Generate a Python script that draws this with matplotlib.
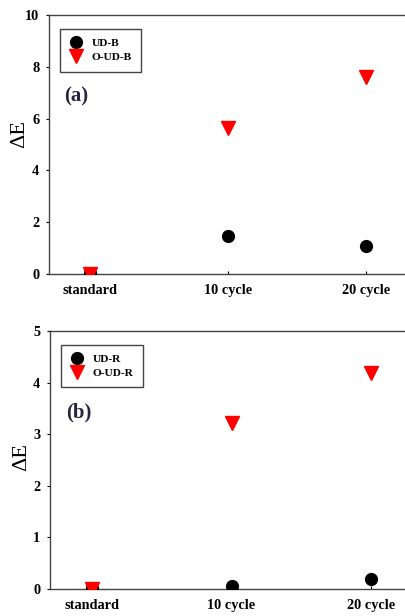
import matplotlib
matplotlib.use("Agg")
import matplotlib.pyplot as plt

categories = ["standard", "10 cycle", "20 cycle"]
ud_b = [0.05, 1.48, 1.09]
oud_b = [0.0, 5.65, 7.62]
ud_r = [0.02, 0.06, 0.19]
oud_r = [0.0, 3.21, 4.19]

plt.rcParams['font.family'] = ['Liberation Serif', 'DejaVu Serif']

W, H = 406, 616
fig = plt.figure(figsize=(W / 100, H / 100), dpi=100)

def panel(rect, s1, s2, n1, n2, ymax, yticks, tag, ylab_xy):
    ax = fig.add_axes(rect)
    x = list(range(len(categories)))
    ax.plot(x, s1, 'o', color='black', markersize=8.5, linestyle='none', label=n1, zorder=3)
    ax.plot(x, s2, 'v', color='red', markersize=10, linestyle='none', label=n2, zorder=4)
    ax.set_xlim(-0.3, 2.3)
    ax.set_ylim(0, ymax)
    ax.set_xticks(x)
    ax.set_xticklabels(categories, fontsize=10.3, fontweight='bold')
    ax.set_yticks(yticks)
    ax.set_yticklabels([str(t) for t in yticks], fontsize=10.3, fontweight='bold')
    ax.tick_params(axis='y', direction='out', length=2, width=0.8, pad=5)
    ax.tick_params(axis='x', direction='in', length=2, width=0.8, pad=7)
    for s in ['left', 'top', 'bottom']:
        ax.spines[s].set_color('#444444')
        ax.spines[s].set_linewidth(1.0)
    ax.spines['right'].set_visible(False)
    fig.text(ylab_xy[0] / W, 1 - ylab_xy[1] / H, 'ΔE', fontsize=16, rotation=90,
             ha='center', va='center')
    leg = ax.legend(loc='upper left', bbox_to_anchor=(0.02, 0.96), frameon=True,
                    fancybox=False, edgecolor='#444444', framealpha=1,
                    prop={'family': 'Liberation Serif', 'weight': 'bold', 'size': 8.2},
                    handletextpad=0.7, borderpad=0.8, labelspacing=0.4, handlelength=1.3,
                    borderaxespad=0.3)
    leg.get_frame().set_linewidth(1.0)
    ax.text(0.043, 0.685, tag, transform=ax.transAxes, fontsize=15, fontweight='bold',
            color='#2a2440', ha='left', va='center')
    return ax

panel([0.1207, 0.5552, 0.8818, 0.4204], ud_b, oud_b, 'UD-B', 'O-UD-B', 10,
      [0, 2, 4, 6, 8, 10], '(a)', (20, 134))
panel([0.1232, 0.0438, 0.894, 0.4189], ud_r, oud_r, 'UD-R', 'O-UD-R', 5,
      [0, 1, 2, 3, 4, 5], '(b)', (22, 457))

fig.savefig('out.png', dpi=100)
